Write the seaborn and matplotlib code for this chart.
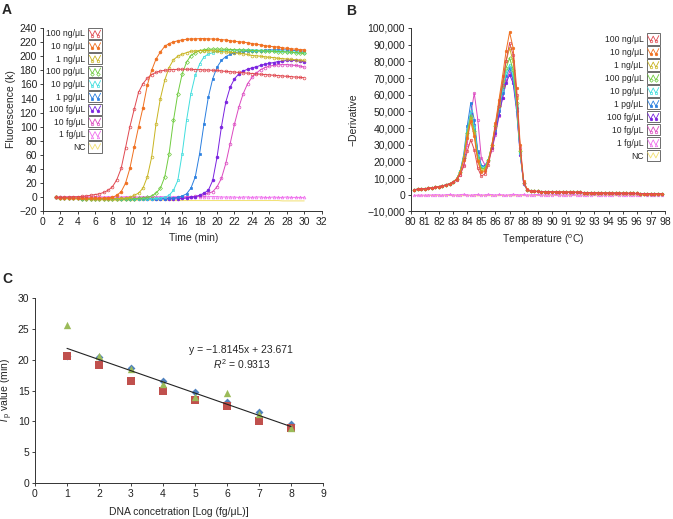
import numpy as np
import pandas as pd
import matplotlib
matplotlib.use("Agg")
import matplotlib.pyplot as plt
from matplotlib.lines import Line2D
from matplotlib.patches import Rectangle
from matplotlib.legend_handler import HandlerBase
from matplotlib.ticker import FuncFormatter, MultipleLocator
import seaborn as sns

# ---------------- data ----------------
conc_labels = ["100 ng/\u03bcL", "10 ng/\u03bcL", "1 ng/\u03bcL", "100 pg/\u03bcL", "10 pg/\u03bcL",
               "1 pg/\u03bcL", "100 fg/\u03bcL", "10 fg/\u03bcL", "1 fg/\u03bcL", "NC"]
conc_colors = ["#e04850", "#f07020", "#c8b420", "#70cc40", "#40dede",
               "#2a7fe0", "#7a22e0", "#dc48c0", "#f070ee", "#f2e070"]

# panel A: amplification curves, sampled every 0.5 min from 1.5 to 30 min
time_min = np.arange(1.5, 30.01, 0.5)
amp_100ng = [0, 0, 0.5, 0.5, 1, 1, 1.5, 2, 3, 4,
             5, 7, 10, 15, 25, 41, 70, 100, 125, 149,
             161, 169, 174, 177, 179, 180, 181, 181, 181.5, 181.5,
             181.5, 181.5, 181, 181, 180.5, 180.5, 180, 180, 179, 178.5,
             178, 177.5, 177, 176.5, 176, 175.5, 175, 174.5, 174, 173.5,
             173, 172.5, 172, 171.5, 171, 170.5, 170, 169.5]
amp_10ng = [0, -0.5, -0.5, -1, -1, -1, -1, -1, -1, -1,
            -1, -1, -0.5, 0, 3, 8, 20, 41, 71, 100,
            127, 159, 180, 196, 206, 214, 218, 220, 222, 223,
            224, 224.5, 224.5, 225, 225, 224.5, 224.5, 224, 223.5, 223,
            222, 221, 220.5, 220, 219, 218, 217, 216, 215, 214,
            213.5, 213, 212, 211, 210.5, 210, 209.5, 209]
amp_1ng = [0, -0.5, -1, -1, -1.5, -1.5, -1.5, -2, -2, -2,
           -2, -2, -2, -2, -2, -1.5, -1, 0, 3, 6,
           13, 29, 57, 104, 140, 166, 184, 195, 200, 203,
           205, 207, 207.5, 208, 208, 208, 207.5, 207, 206.5, 206,
           205.5, 205, 204, 203.5, 202.5, 201, 200.5, 200, 199, 198.5,
           198, 197, 196.5, 196, 195.5, 195, 194.5, 194]
amp_100pg = [0, -0.5, -1, -1, -1.5, -1.5, -2, -2, -2, -2,
             -2, -2, -2, -2, -2, -2, -2, -2, -2, -1.5,
             -1, 0, 2, 6, 13, 29, 62, 109, 147, 175,
             191.5, 201, 205, 208, 209, 210, 210, 210, 210, 210,
             209.5, 209, 209, 208.5, 208.5, 208, 208, 207.5, 207.5, 207,
             207, 206.5, 206.5, 206, 205.5, 205, 204.5, 204]
amp_10pg = [0, -0.5, -1, -1, -1.5, -1.5, -2, -2, -2, -2,
            -2, -2, -2, -2, -2, -2, -2, -2, -2, -2,
            -2, -2, -2, -1.5, -1, 0, 3, 10, 24, 62,
            109, 147, 173, 189, 199, 203, 205, 207, 208, 208.5,
            209, 209, 209, 209, 209, 209, 208.5, 208.5, 208, 208,
            207.5, 207.5, 207, 206.5, 206, 206, 205.5, 205]
amp_1pg = [0, -0.5, -1, -1, -1.5, -1.5, -2, -2, -2, -2,
           -2, -2, -2, -2, -2, -2, -2, -2, -2, -2,
           -2, -2, -2, -2, -2, -2, -1.5, -1, 0, 2,
           5, 13, 29, 62, 104, 142, 168, 184.5, 194, 199.5,
           202.5, 205, 206, 206.5, 207, 207, 207.5, 208, 208.5, 209,
           209, 209, 209, 209, 208.5, 208, 207.5, 207]
amp_100fg = [0, -0.5, -1, -1, -1.5, -1.5, -2, -2, -2, -2,
             -2, -2, -2, -2, -2, -2, -2, -2, -2, -2,
             -2, -2, -2, -2, -2, -2, -2, -2, -2, -1.5,
             -1, 0, 1, 3, 6, 10, 24, 57, 100, 135,
             156, 168, 175, 179, 181.5, 183.5, 185, 187, 188.5, 190,
             191, 192.5, 193, 194, 194, 194, 193, 192]
amp_10fg = [0, 0, -0.5, -0.5, -1, -1, -1, -1, -1, -1,
            -1, -1, -1, -1, -1, -1, -1, -1, -1, -1,
            -1, -1, -1, -1, -1, -1, -0.5, -0.5, 0, 0,
            0.5, 1, 1.5, 2, 4, 6, 8, 15, 27, 48,
            76, 104, 128, 147, 161, 170, 176, 181, 184, 186,
            187, 188, 188, 188, 187.5, 187, 186, 184.5]
amp_1fg = [0, 0.5, 0.5, 1, 1, 0.5, 1, 1, 0.5, 1,
           1, 0.5, 1, 1, 1, 0.5, 1, 1, 1, 0.5,
           1, 1, 0.5, 1, 1, 1, 0.5, 1, 1, 1,
           0.5, 1, 1, 1, 0.5, 1, 1, 1, 0.5, 0.5,
           0.5, 0.5, 0, 0.5, 0.5, 0, 0.5, 0.5, 0, 0,
           0.5, 0, 0, 0.5, 0, 0, 0, 0]
amp_nc = [-1, -1.5, -2, -2, -2.5, -2.5, -3, -3, -3, -3.5,
          -3.5, -3.5, -3.5, -4, -4, -4, -4, -4, -4, -4,
          -4, -4, -4, -4, -4, -4, -4, -4.5, -4.5, -4.5,
          -4.5, -4.5, -4.5, -4.5, -4.5, -4.5, -4.5, -4.5, -4.5, -4.5,
          -4.5, -4.5, -4.5, -4.5, -4.5, -4.5, -4.5, -4.5, -4.5, -4.5,
          -4.5, -4.5, -5, -5, -5, -5, -5, -5]
amp_series = [amp_100ng, amp_10ng, amp_1ng, amp_100pg, amp_10pg,
              amp_1pg, amp_100fg, amp_10fg, amp_1fg, amp_nc]

# panel B: melt curves, every 0.25 C from 80.25 to 97.75
temp_c = np.arange(80.25, 97.76, 0.25)
melt_head = [3100, 3300, 3500, 3700, 3900, 4200, 4500, 4900, 5300, 5900, 6600]  # 80.25-82.75
melt_tail = [2100, 2000, 1950, 1900, 1850, 1800, 1750, 1700, 1650, 1600,
             1550, 1500, 1450, 1400, 1350, 1300, 1250, 1200, 1150, 1100,
             1050, 1000, 980, 950, 920, 900, 870, 850, 820, 800,
             770, 750, 720, 700, 680, 650, 620]  # 88.75-97.75
# 83.0-88.5 for each sample
melt_100ng = [7500, 9000, 12000, 17000, 26000, 33000, 27000, 16000, 11200, 12500, 18000, 28000,
              40000, 53000, 66000, 80000, 91000, 84000, 60000, 28000, 7000, 3000, 2300]
melt_10ng = [7500, 9500, 13000, 21000, 34000, 44000, 35000, 20000, 13500, 14000, 20000, 30000,
             43000, 57000, 71000, 86000, 97500, 88000, 64000, 30000, 8000, 3200, 2400]
melt_1ng = [7500, 9500, 13500, 22000, 36000, 46000, 37000, 21000, 14500, 15000, 20500, 30000,
            42000, 55000, 68000, 80000, 88000, 80000, 58000, 27000, 7000, 3000, 2300]
melt_100pg = [7500, 9500, 13500, 22000, 37000, 47500, 38000, 22000, 15500, 16000, 21000, 30000,
              41000, 53000, 65000, 76000, 82000, 75000, 55000, 26000, 7000, 3000, 2300]
melt_10pg = [7500, 9500, 14000, 23000, 38000, 50000, 41000, 24000, 16500, 16500, 21000, 30000,
             40000, 52000, 63000, 73000, 78000, 72000, 53000, 25000, 7000, 3000, 2300]
melt_1pg = [7500, 9500, 14000, 24000, 41000, 55000, 45000, 26000, 17500, 17000, 21000, 29000,
            39000, 50000, 61000, 71000, 76000, 70000, 52000, 25000, 7000, 3000, 2300]
melt_100fg = [7500, 9500, 13500, 22000, 37000, 49000, 42000, 25000, 17500, 17000, 20500, 28000,
              37000, 48000, 58000, 67000, 72000, 67000, 50000, 24000, 6500, 3000, 2300]
melt_10fg = [7500, 9000, 12000, 18000, 30000, 48000, 61000, 45000, 22000, 18000, 20000, 27000,
             36000, 47000, 58000, 68000, 74000, 69000, 52000, 25000, 7000, 3000, 2300]
melt_1fg = [-300, -200, -100, -200, 0, -100, 100, 0, -200, 100,
            200, 0, -100, 100, 300, 0, -200, 100, 200, -100,
            0, 300, 100, -100, 200, 0, -200, 100, 300, 100,
            0, 200, -100, 0, 100, 200, 0, -100, 100, 0,
            200, 100, -100, 0, 100, 200, 0, -100, 0, 100,
            0, 200, 100, 0, -100, 100, 0, 200, 100, 0,
            -100, 0, 100, 0, 100, 200, 0, -100, 0, 100, 0]
melt_nc = [-500, -400, -500, -600, -500, -400, -500, -500, -600, -500,
           -400, -500, -500, -600, -500, -400, -500, -500, -600, -500,
           -400, -500, -500, -600, -500, -400, -500, -500, -600, -500,
           -400, -500, -500, -600, -500, -400, -500, -500, -600, -500,
           -400, -500, -500, -600, -500, -400, -500, -500, -600, -500,
           -400, -500, -500, -600, -500, -400, -500, -500, -600, -500,
           -400, -500, -500, -600, -500, -400, -500, -500, -600, -500, -500]
melt_peaks = [melt_100ng, melt_10ng, melt_1ng, melt_100pg, melt_10pg,
              melt_1pg, melt_100fg, melt_10fg]

# panel C: Tp values vs log concentration
log_conc = [1, 2, 3, 4, 5, 6, 7, 8]
tp_run1 = [20.6, 20.4, 18.7, 16.5, 14.8, 13.2, 11.5, 9.5]   # blue diamonds
tp_run2 = [20.6, 19.1, 16.6, 15.0, 13.5, 12.5, 10.1, 8.9]   # red squares
tp_run3 = [25.6, 20.6, 18.5, 16.0, 14.0, 14.6, 11.2, 8.9]   # green triangles
fit_slope = -1.8145
fit_intercept = 23.671
fit_r2 = 0.9313

# marker styles per sample: (marker, filled)
marker_styles = [("o", False), ("o", True), ("o", False), ("D", False), ("s", False),
                 ("s", True), ("o", True), ("o", False), ("^", False), ("", False)]

# ---------------- style ----------------
sns.set_theme(style="ticks")
plt.rcParams["font.family"] = ["Liberation Sans", "DejaVu Sans"]
plt.rcParams["mathtext.fontset"] = "custom"
plt.rcParams["mathtext.rm"] = "Liberation Sans"
plt.rcParams["mathtext.it"] = "Liberation Sans:italic"
plt.rcParams["axes.linewidth"] = 0.7
plt.rcParams["axes.edgecolor"] = "#333333"
plt.rcParams["xtick.major.size"] = 2.5
plt.rcParams["ytick.major.size"] = 2.5
plt.rcParams["xtick.major.width"] = 0.6
plt.rcParams["ytick.major.width"] = 0.6
plt.rcParams["xtick.major.pad"] = 1.5
plt.rcParams["ytick.major.pad"] = 1.5

TICK_FS = 7.5
LABEL_FS = 7.5
LEG_FS = 6.2

fig = plt.figure(figsize=(6.73, 5.19), dpi=100)
ax_a = fig.add_axes([0.0634, 0.5925, 0.4146, 0.3536])
ax_b = fig.add_axes([0.6102, 0.5925, 0.378, 0.3536])
ax_c = fig.add_axes([0.052, 0.0694, 0.428, 0.356])


def style_kwargs(i, ms=2.0):
    m, filled = marker_styles[i]
    c = conc_colors[i]
    kw = dict(color=c, linewidth=0.7, marker=m if m else None, markersize=ms,
              markeredgewidth=0.5, markeredgecolor=c)
    kw["markerfacecolor"] = c if filled else "none"
    return kw


class BoxHandler(HandlerBase):
    """Legend key drawn as a small box with a zig-zag trace inside."""
    def create_artists(self, legend, orig_handle, xdescent, ydescent,
                       width, height, fontsize, trans):
        x0, y0 = -xdescent, -ydescent - 1.5
        h = height + 3
        rect = Rectangle((x0, y0), width, h, fill=False, edgecolor="#555555",
                         linewidth=0.6, transform=trans)
        xs = [x0 + f * width for f in (0.08, 0.3, 0.5, 0.7, 0.92)]
        ys = [y0 + f * h for f in (0.8, 0.3, 0.75, 0.3, 0.8)]
        line = Line2D(xs, ys, transform=trans, color=orig_handle.get_color(),
                      linewidth=0.6, marker=orig_handle.get_marker(), markersize=1.8,
                      markerfacecolor=orig_handle.get_markerfacecolor(),
                      markeredgecolor=orig_handle.get_markeredgecolor(),
                      markeredgewidth=0.5, markevery=[1, 3])
        return [rect, line]


def make_handles():
    handles = []
    for i, lab in enumerate(conc_labels):
        handles.append(Line2D([0], [0], label=lab, **style_kwargs(i)))
    return handles


leg_kw = dict(frameon=False, fontsize=LEG_FS, markerfirst=False, handlelength=1.55,
              handleheight=0.9, handletextpad=0.35, borderaxespad=0.2,
              handler_map={Line2D: BoxHandler()})

# ---------------- panel A ----------------
for i in reversed(range(len(conc_labels))):
    sns.lineplot(x=time_min, y=amp_series[i], ax=ax_a, errorbar=None, **style_kwargs(i))
ax_a.set_xlim(0, 32)
ax_a.set_ylim(-20, 240)
ax_a.xaxis.set_major_locator(MultipleLocator(2))
ax_a.yaxis.set_major_locator(MultipleLocator(20))
ax_a.set_xlabel("Time (min)", fontsize=LABEL_FS)
ax_a.set_ylabel("Fluorescence (k)", fontsize=LABEL_FS)
ax_a.xaxis.set_label_coords(0.54, -0.115)
ax_a.yaxis.set_label_coords(-0.097, 0.56)
ax_a.legend(handles=make_handles(), loc="upper left", bbox_to_anchor=(-0.005, 1.02),
            labelspacing=0.42, **leg_kw)

# ---------------- panel B ----------------
for i in reversed(range(len(conc_labels))):
    if i < len(melt_peaks):
        vals = melt_head + melt_peaks[i] + melt_tail
    elif i == 8:
        vals = melt_1fg
    else:
        vals = melt_nc
    sns.lineplot(x=temp_c, y=vals, ax=ax_b, errorbar=None, **style_kwargs(i, ms=1.8))
ax_b.set_xlim(80, 98)
ax_b.set_ylim(-10000, 100000)
ax_b.xaxis.set_major_locator(MultipleLocator(1))
ax_b.yaxis.set_major_locator(MultipleLocator(10000))
ax_b.yaxis.set_major_formatter(FuncFormatter(lambda v, p: f"{v:,.0f}".replace("-", "\u2212")))
ax_b.set_xlabel(r"Temperature ($^{\mathrm{o}}$C)", fontsize=LABEL_FS)
ax_b.set_ylabel("\u2212Derivative", fontsize=LABEL_FS)
ax_b.xaxis.set_label_coords(0.52, -0.115)
ax_b.yaxis.set_label_coords(-0.205, 0.5)
ax_b.legend(handles=make_handles(), loc="upper right", bbox_to_anchor=(1.0, 0.99),
            labelspacing=0.46, **leg_kw)

# ---------------- panel C ----------------
sns.scatterplot(x=log_conc, y=tp_run1, ax=ax_c, marker="D", s=16, color="#4f81bd", linewidth=0)
sns.scatterplot(x=log_conc, y=tp_run2, ax=ax_c, marker="s", s=30, color="#c0504d", linewidth=0)
sns.scatterplot(x=log_conc, y=tp_run3, ax=ax_c, marker="^", s=28, color="#9bbb59", linewidth=0)
fit_x = np.array([log_conc[0], log_conc[-1]])
sns.lineplot(x=fit_x, y=fit_slope * fit_x + fit_intercept, ax=ax_c, color="#222222", linewidth=0.8)
ax_c.text(6.45, 21.6, f"y = {fit_slope:.4f}x + {fit_intercept:.3f}".replace("-", "\u2212"),
          ha="center", va="center", fontsize=LABEL_FS)
ax_c.text(6.45, 19.3, r"$R^2$" + f" = {fit_r2:.4f}", ha="center", va="center", fontsize=LABEL_FS)
ax_c.set_xlim(0, 9)
ax_c.set_ylim(0, 30)
ax_c.xaxis.set_major_locator(MultipleLocator(1))
ax_c.yaxis.set_major_locator(MultipleLocator(5))
ax_c.set_xlabel("DNA concetration [Log (fg/\u03bcL)]", fontsize=LABEL_FS)
ax_c.set_ylabel(r"$T_{\mathrm{p}}$ value (min)", fontsize=LABEL_FS)
ax_c.xaxis.set_label_coords(0.5, -0.13)
ax_c.yaxis.set_label_coords(-0.068, 0.5)

for ax in (ax_a, ax_b, ax_c):
    sns.despine(ax=ax)
    ax.tick_params(labelsize=TICK_FS, colors="#222222")

fig.text(0.003, 0.995, "A", fontsize=10, fontweight="bold", va="top", ha="left")
fig.text(0.514, 0.993, "B", fontsize=10, fontweight="bold", va="top", ha="left")
fig.text(0.003, 0.476, "C", fontsize=10, fontweight="bold", va="top", ha="left")

fig.savefig("out.png", dpi=100)
